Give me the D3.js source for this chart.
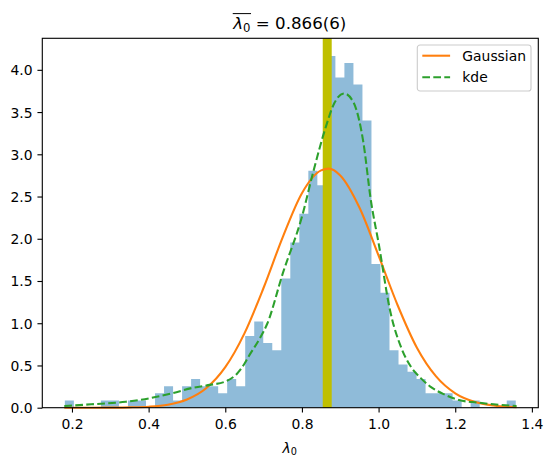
<!DOCTYPE html>
<html>
<head>
<meta charset="utf-8">
<script src="https://cdn.jsdelivr.net/npm/d3@7"></script>
<style>
  body { margin: 0; background: #fff; }
  svg { display: block; font-family: "DejaVu Sans", sans-serif; }
</style>
</head>
<body>
<div id="chart"></div>
<script>
// histogram: 50 bins starting at binStart, density per bin
const binStart = 0.1814;
const binWidth = 0.02353;
const histDensity = [
  0.085, 0, 0, 0, 0.085, 0.085, 0, 0.085, 0.085, 0,
  0.17, 0.255, 0.085, 0.255, 0.34, 0.255, 0.255, 0.17, 0.34, 0.255,
  0.85, 1.02, 0.765, 0.68, 1.53, 1.955, 2.295, 2.805, 2.635, 4.165,
  3.91, 4.08, 3.825, 3.40, 1.70, 1.36, 0.68, 0.51, 0.425, 0.34,
  0.17, 0.17, 0.17, 0.085, 0, 0.085, 0, 0, 0, 0.085
];

// fitted gaussian curve
const gaussX = [0.18, 0.25, 0.30, 0.35, 0.40, 0.45, 0.50, 0.55, 0.60, 0.65, 0.70, 0.75, 0.80,
                0.85, 0.87, 0.90, 0.95, 1.00, 1.05, 1.10, 1.15, 1.20, 1.25, 1.30, 1.36];
const gaussY = [0.0, 0.0, 0.001, 0.004, 0.012, 0.036, 0.097, 0.23, 0.48, 0.88, 1.42, 2.02, 2.54,
                2.81, 2.83, 2.75, 2.37, 1.80, 1.21, 0.71, 0.37, 0.17, 0.07, 0.025, 0.006];

// kde curve
const kdeX = [0.18, 0.25, 0.34, 0.40, 0.46, 0.52, 0.56, 0.60, 0.63, 0.65, 0.66, 0.69, 0.71, 0.75,
              0.80, 0.83, 0.86, 0.885, 0.91, 0.935, 0.96, 0.98, 1.00, 1.03, 1.06, 1.085, 1.11,
              1.135, 1.17, 1.21, 1.26, 1.30, 1.36];
const kdeY = [0.02, 0.04, 0.07, 0.11, 0.17, 0.24, 0.27, 0.31, 0.40, 0.52, 0.60, 0.82, 1.00, 1.59,
              2.26, 2.80, 3.29, 3.61, 3.72, 3.61, 3.15, 2.45, 1.95, 1.15, 0.70, 0.48, 0.35,
              0.25, 0.16, 0.09, 0.06, 0.04, 0.02];

const meanVal = 0.866;
const spanHalf = 0.0117;

const xTicks = [0.2, 0.4, 0.6, 0.8, 1.0, 1.2, 1.4];
const yTicks = [0.0, 0.5, 1.0, 1.5, 2.0, 2.5, 3.0, 3.5, 4.0];
const seriesNames = ["Gaussian", "kde"];
const seriesColors = ["#ff7f0e", "#2ca02c"];

const W = 551, H = 464;
const m = {t: 38.3, l: 42.3, r: W - 538.3, b: H - 407.7};
const w = W - m.l - m.r;
const h = H - m.t - m.b;
const fs = 13.9;

const binEnd = binStart + binWidth * histDensity.length;
const pad = 0.05 * (binEnd - binStart);
const scaleX = d3.scaleLinear()
  .domain([binStart - pad, binEnd + pad])
  .range([0, w]);
const scaleY = d3.scaleLinear()
  .domain([0, d3.max(histDensity) * 1.05])
  .range([h, 0]);

const svg = d3.select("#chart").append("svg")
  .attr("width", W)
  .attr("height", H);
svg.append("rect").attr("width", W).attr("height", H).attr("fill", "#fff");

const plot = svg.append("g")
  .attr("transform", `translate(${m.l},${m.t})`);

// bars drawn as one stepped area so neighbours have no seams
const steps = histDensity.map((d, i) => [binStart + i * binWidth, d]);
steps.push([binEnd, histDensity[histDensity.length - 1]]);
const areaGenerator = d3.area()
  .x(d => scaleX(d[0]))
  .y0(scaleY(0))
  .y1(d => scaleY(d[1]))
  .curve(d3.curveStepAfter);
plot.append("path")
  .datum(steps)
  .attr("class", "bars")
  .attr("d", areaGenerator)
  .attr("fill", "#1f77b4")
  .attr("fill-opacity", 0.5);

// mean band
plot.append("rect")
  .attr("x", scaleX(meanVal - spanHalf))
  .attr("width", scaleX(meanVal + spanHalf) - scaleX(meanVal - spanHalf))
  .attr("y", 0)
  .attr("height", h)
  .attr("fill", "#bfbf00");

const lineGenerator = d3.line()
  .x(d => scaleX(d[0]))
  .y(d => scaleY(d[1]))
  .curve(d3.curveMonotoneX);

plot.append("path")
  .datum(gaussX.map((x, i) => [x, gaussY[i]]))
  .attr("d", lineGenerator)
  .attr("fill", "none")
  .attr("stroke", seriesColors[0])
  .attr("stroke-width", 2.08);

plot.append("path")
  .datum(kdeX.map((x, i) => [x, kdeY[i]]))
  .attr("d", lineGenerator)
  .attr("fill", "none")
  .attr("stroke", seriesColors[1])
  .attr("stroke-width", 2.08)
  .attr("stroke-dasharray", "7.7,3.3");

// axes
const axisX = d3.axisBottom(scaleX)
  .tickValues(xTicks)
  .tickFormat(d3.format(".1f"))
  .tickSizeOuter(0)
  .tickSize(4.86)
  .tickPadding(4.86);
const axisY = d3.axisLeft(scaleY)
  .tickValues(yTicks)
  .tickFormat(d3.format(".1f"))
  .tickSizeOuter(0)
  .tickSize(4.86)
  .tickPadding(4.86);

const gx = plot.append("g")
  .attr("transform", `translate(0,${h})`)
  .call(axisX);
const gy = plot.append("g").call(axisY);

[gx, gy].forEach(g => {
  g.select(".domain").remove();
  g.selectAll("line").attr("stroke", "#000").attr("stroke-width", 1.11);
  g.selectAll("text")
    .attr("fill", "#000")
    .style("font-size", fs + "px")
    .style("font-family", "DejaVu Sans");
});
gx.selectAll("text").attr("dy", null).attr("y", 21.6);
gy.selectAll("text").attr("dy", null).attr("y", 5);

// spines
plot.append("rect")
  .attr("width", w)
  .attr("height", h)
  .attr("fill", "none")
  .attr("stroke", "#000")
  .attr("stroke-width", 1.11);

// legend
const lg = plot.append("g")
  .attr("transform", `translate(${417.3 - m.l},${45 - m.t})`);
lg.append("rect")
  .attr("width", 113.7)
  .attr("height", 46)
  .attr("rx", 2.8)
  .attr("fill", "#fff")
  .attr("fill-opacity", 0.8)
  .attr("stroke", "#cccccc")
  .attr("stroke-width", 1.11);
seriesNames.forEach((name, i) => {
  const yy = 10.7 + i * 21.6;
  lg.append("line")
    .attr("x1", 5).attr("x2", 32.8)
    .attr("y1", yy).attr("y2", yy)
    .attr("stroke", seriesColors[i])
    .attr("stroke-width", 2.08)
    .attr("stroke-dasharray", i === 1 ? "7.7,3.3" : null);
  lg.append("text")
    .attr("x", 45)
    .attr("y", yy + 5)
    .attr("fill", "#000")
    .style("font-size", fs + "px")
    .text(name);
});

// x label: lambda_0
const xl = svg.append("text")
  .attr("y", 452.5)
  .attr("fill", "#000")
  .style("font-size", fs + "px");
xl.append("tspan").style("font-style", "italic").text("λ");
xl.append("tspan").attr("dy", 2.8).style("font-size", (fs * 0.7) + "px").text("0");
const xlw = xl.node().getBBox().width;
xl.attr("x", m.l + w / 2 - xlw / 2);

// title: overline(lambda_0) = 0.866(6)
const tfs = 16.67;
const title = svg.append("text")
  .attr("y", 29)
  .attr("fill", "#000")
  .style("font-size", tfs + "px");
title.append("tspan").style("font-style", "italic").text("λ");
title.append("tspan").attr("dy", 3.4).style("font-size", (tfs * 0.7) + "px").text("0");
title.append("tspan").attr("dy", -3.4).text(" = 0.866(6)");
const tw = title.node().getBBox().width;
title.attr("x", m.l + w / 2 - tw / 2);
const tn = title.node();
const ox0 = tn.getStartPositionOfChar(0).x;
const ox1 = tn.getEndPositionOfChar(1).x;
svg.append("line")
  .attr("x1", ox0 - 0.5).attr("x2", ox1 + 0.5)
  .attr("y1", 13.6).attr("y2", 13.6)
  .attr("stroke", "#000")
  .attr("stroke-width", 1);
</script>
</body>
</html>
